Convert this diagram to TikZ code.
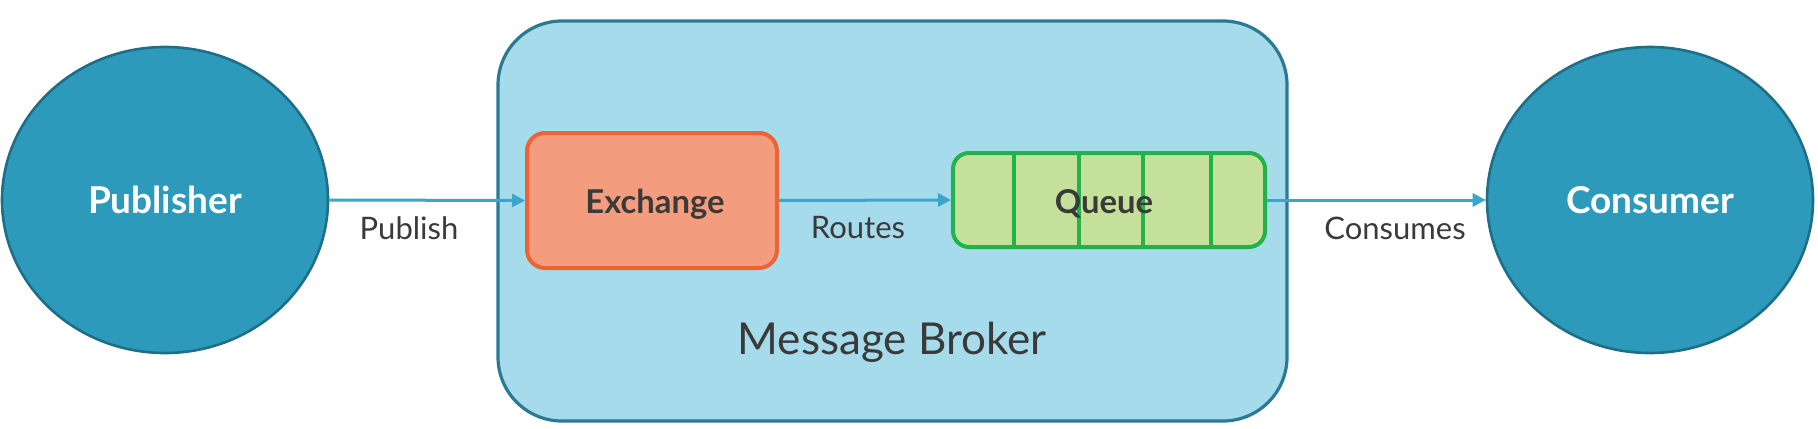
\documentclass[tikz,border=0pt]{standalone}
\usepackage{fontspec}
\setmainfont{Lato}
\usetikzlibrary{arrows.meta,calc,shapes.geometric}
\definecolor{actor}{HTML}{2E9ABB}
\definecolor{actorline}{HTML}{1F6E88}
\definecolor{brokerfill}{HTML}{A5DBEB}
\definecolor{brokerline}{HTML}{2A7A94}
\definecolor{exfill}{HTML}{F39C7E}
\definecolor{exline}{HTML}{EE6336}
\definecolor{qfill}{HTML}{C5E09A}
\definecolor{qline}{HTML}{22B24C}
\definecolor{flow}{HTML}{3AA6CC}
\definecolor{txt}{HTML}{3A3A3A}
\tikzset{
  actornode/.style={ellipse, draw=actorline, line width=1.3pt, fill=actor, minimum width=163pt, minimum height=153pt, inner sep=0pt, text=white, font=\bfseries\fontsize{18.5}{20}\selectfont},
  flowarrow/.style={draw=flow, line width=1.5pt, -{Triangle[length=6.5pt,width=6.5pt]}},
  lbl/.style={text=txt, font=\fontsize{15.5}{18}\selectfont, inner sep=0pt},
  boxtext/.style={text=txt, font=\bfseries\fontsize{16.4}{19}\selectfont, inner sep=0pt},
}
\begin{document}
\begin{tikzpicture}[x=0.5pt,y=-0.5pt]
\useasboundingbox (0,0) rectangle (1818,428);
\node[actornode] (pub) at (165,200) {Publisher};
\node[actornode] (con) at (1650,200) {Consumer};
\node[draw=brokerline, line width=1.6pt, fill=brokerfill, rounded corners=32pt, minimum width=394.5pt, minimum height=200pt] (broker) at (892.5,221) {};
\node[lbl, font=\fontsize{22}{26}\selectfont] (mb) at (892,342) {Message Broker};
\node[draw=exline, line width=2pt, fill=exfill, rounded corners=9pt, minimum width=125pt, minimum height=67.5pt] (ex) at (652,200.5) {};
\node[boxtext] (ext) at (655,204) {Exchange};
\node[draw=qline, line width=2pt, fill=qfill, rounded corners=8pt, minimum width=156pt, minimum height=47pt] (q) at (1109,200) {};
\foreach \dx in {63,128,192,260}{
  \draw[qline, line width=2pt] ($(q.north west)+(\dx,0)$) -- ($(q.south west)+(\dx,0)$);
}
\node[boxtext] (qt) at (1104,204) {Queue};
\draw[flowarrow] (pub.east) -- (ex.west);
\draw[flowarrow] (ex.east) -- (q.west);
\draw[flowarrow] (q.east) -- (con.west);
\node[lbl] (l1) at (409,228) {Publish};
\node[lbl] (l2) at (858,228) {Routes};
\node[lbl] (l3) at (1395,228) {Consumes};
\end{tikzpicture}
\end{document}
